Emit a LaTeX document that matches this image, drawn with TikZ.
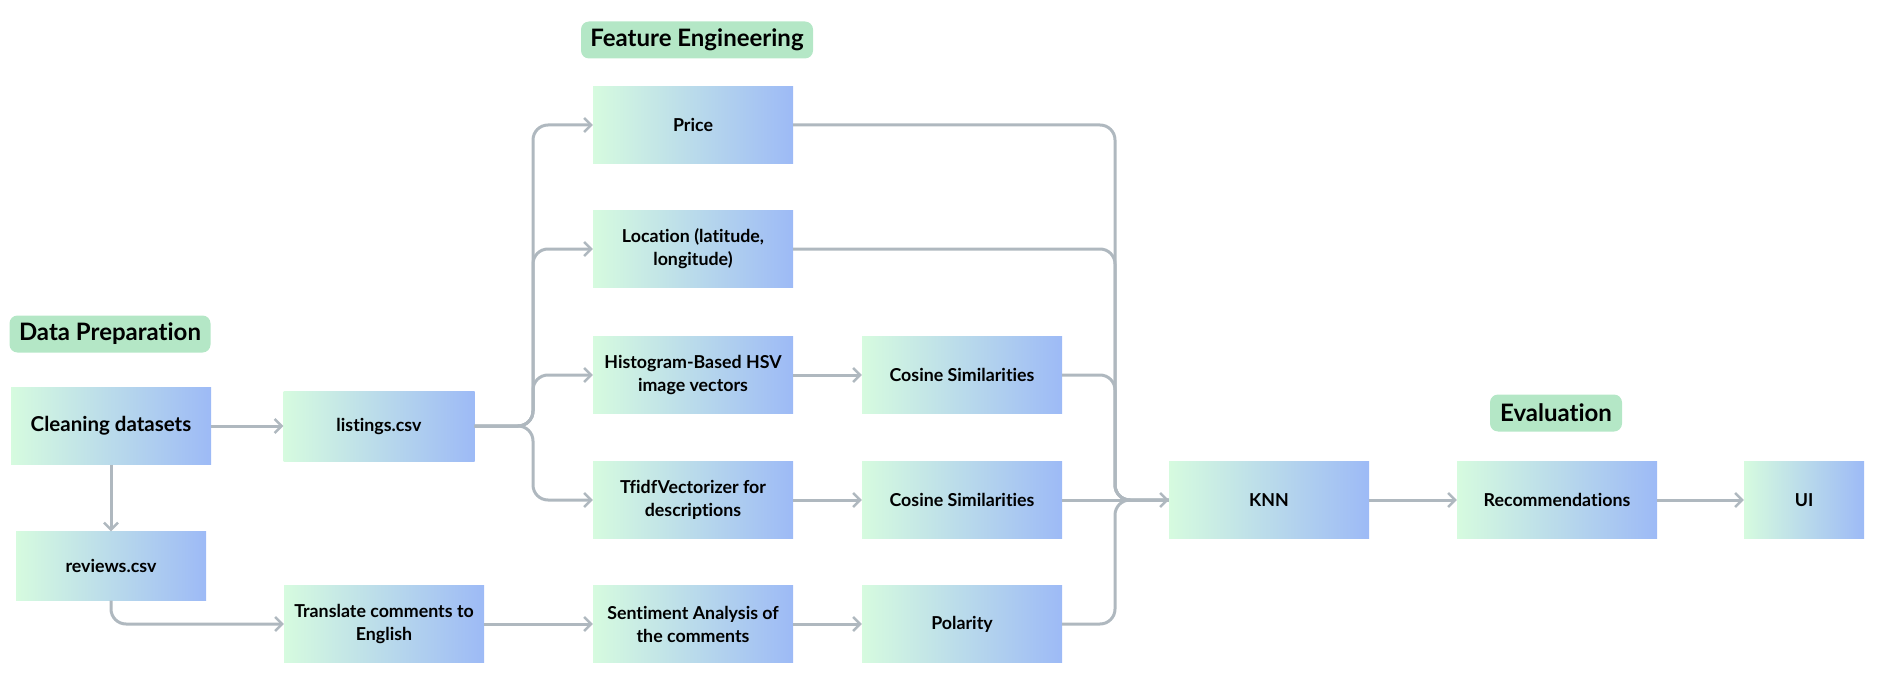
\documentclass[tikz,border=0pt]{standalone}
\usepackage{fontspec}
\setmainfont{Lato}[Ligatures=CommonOff]
\usetikzlibrary{arrows.meta}
\definecolor{mint}{HTML}{D6FBDF}
\definecolor{sky}{HTML}{9DBAF6}
\definecolor{tagfill}{HTML}{B4E7C6}
\definecolor{wire}{HTML}{AFB8BF}
\tikzset{
  box/.style={left color=mint, right color=sky, draw=none, inner sep=0pt,
    minimum width=200pt, minimum height=77pt, align=center,
    font=\bfseries\fontsize{17.8}{23}\selectfont},
  tag/.style={fill=tagfill, rounded corners=8pt, inner sep=0pt,
    minimum height=37pt, font=\bfseries\fontsize{24}{26}\selectfont},
  flow/.style={draw=wire, line width=3pt, rounded corners=15pt},
  tip/.style={-{Straight Barb[length=7pt,width=14pt,line width=2.5pt]}}
}
\begin{document}
\begin{tikzpicture}[x=1pt,y=-1pt]
  \useasboundingbox (0,0) rectangle (1882,698);
  % section labels
  \node[tag, minimum width=201pt] (dataprep) at (110,334) {Data Preparation};
  \node[tag, minimum width=232pt] (feateng) at (697,40) {Feature Engineering};
  \node[tag, minimum width=132pt] (evalu) at (1556,413) {Evaluation};
  % data preparation
  \node[box, font=\bfseries\fontsize{20.5}{23}\selectfont] (clean) at (111,426) {Cleaning datasets};
  \node[box, minimum width=191pt, minimum height=70pt] (listings) at (379,426) {listings.csv};
  \node[box, minimum width=190pt, minimum height=69pt] (reviews) at (111,566) {reviews.csv};
  \node[box] (translate) at (384,624) {Translate comments to\\English};
  % feature engineering
  \node[box] (price) at (693,125) {Price};
  \node[box] (location) at (693,249) {Location (latitude,\\longitude)};
  \node[box] (hsv) at (693,375) {Histogram-Based HSV\\image vectors};
  \node[box] (tfidf) at (693,500) {TfidfVectorizer for\\descriptions};
  \node[box] (sentiment) at (693,624) {Sentiment Analysis of\\the comments};
  \node[box] (cosimg) at (962,375) {Cosine Similarities};
  \node[box] (costxt) at (962,500) {Cosine Similarities};
  \node[box] (polarity) at (962,624) {Polarity};
  % evaluation
  \node[box] (knn) at (1269,500) {KNN};
  \node[box] (recs) at (1557,500) {Recommendations};
  \node[box, minimum width=120pt] (ui) at (1804,500) {UI};
  \coordinate (split) at (533,426);
  \coordinate (merge) at (1115,500);
  % connectors
  \draw[flow, tip] (clean) -- (listings);
  \draw[flow, tip] (clean) -- (reviews);
  \draw[flow, tip] (reviews.south) |- (translate.west);
  \draw[flow, tip] (translate) -- (sentiment);
  \draw[flow, tip] (listings.east) -- (split) |- (price.west);
  \draw[flow, tip] (listings.east) -- (split) |- (location.west);
  \draw[flow, tip] (listings.east) -- (split) |- (hsv.west);
  \draw[flow, tip] (listings.east) -- (split) |- (tfidf.west);
  \draw[flow, tip] (hsv) -- (cosimg);
  \draw[flow, tip] (tfidf) -- (costxt);
  \draw[flow, tip] (sentiment) -- (polarity);
  \draw[flow] (price.east) -| (merge) -- (knn.west);
  \draw[flow] (location.east) -| (merge) -- (knn.west);
  \draw[flow] (cosimg.east) -| (merge) -- (knn.west);
  \draw[flow] (polarity.east) -| (merge) -- (knn.west);
  \draw[flow, tip] (costxt) -- (knn);
  \draw[flow, tip] (knn) -- (recs);
  \draw[flow, tip] (recs) -- (ui);
\end{tikzpicture}
\end{document}
